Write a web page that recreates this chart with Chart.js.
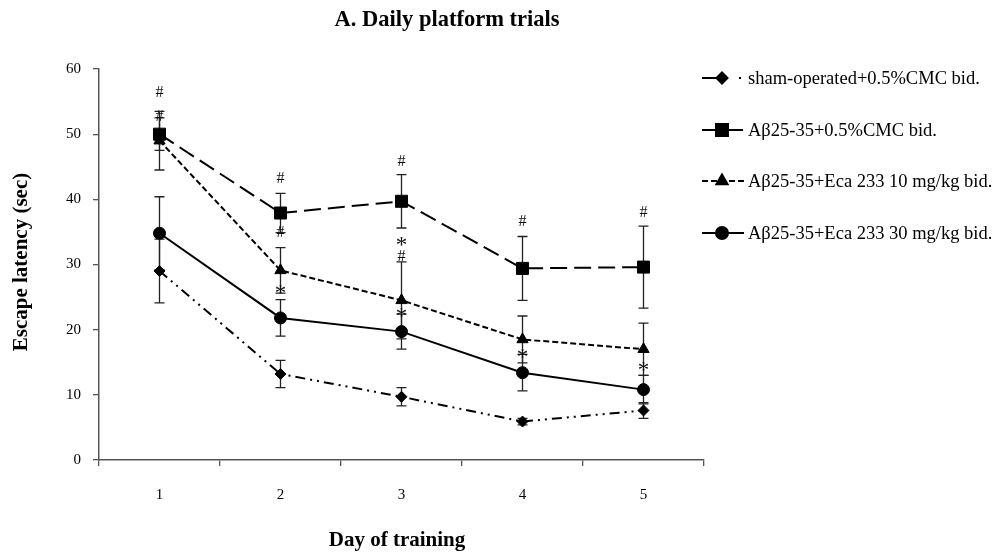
<!DOCTYPE html>
<html><head><meta charset="utf-8">
<script src="https://cdn.jsdelivr.net/npm/chart.js@4/dist/chart.umd.min.js"></script>
<style>html,body{margin:0;padding:0;background:#fff}#wrap{width:992px;height:554px;position:relative}</style>
</head><body><div id="wrap"><canvas id="c" width="992" height="554"></canvas></div>
<script>
// Escape latency (mean ± SEM) per training day
const days = ['1', '2', '3', '4', '5'];
const shamMean = [29.0, 13.2, 9.7, 5.9, 7.6];
const shamSem = [4.9, 2.1, 1.4, 0.5, 1.2];
const abMean = [50.0, 37.9, 39.7, 29.4, 29.6];
const abSem = [2.5, 3.0, 4.1, 4.9, 6.3];
const eca10Mean = [49.0, 29.1, 24.5, 18.5, 17.0];
const eca10Sem = [4.5, 3.5, 5.9, 3.6, 4.0];
const eca30Mean = [34.8, 21.8, 19.7, 13.4, 10.8];
const eca30Sem = [5.6, 2.8, 2.7, 2.8, 2.2];
const seriesNames = ['sham-operated+0.5%CMC bid.', 'Aβ25-35+0.5%CMC bid.', 'Aβ25-35+Eca 233 10 mg/kg bid.', 'Aβ25-35+Eca 233 30 mg/kg bid.'];
const yMin = 0, yMax = 60, yStep = 10;
// significance marks: day index, value level, symbol
const sigDay = [0, 0, 1, 1, 1, 2, 2, 2, 2, 3, 3, 4, 4];
const sigY = [56.6, 52.9, 43.4, 35.0, 26.2, 46.0, 33.5, 31.4, 22.7, 36.8, 16.3, 38.2, 14.3];
const sigSym = ['#', '#', '#', '#', '*', '#', '*', '#', '*', '#', '*', '#', '*'];

const SERIF = '"Liberation Serif", "Times New Roman", serif';
const means = [shamMean, abMean, eca10Mean, eca30Mean];
const sems = [shamSem, abSem, eca10Sem, eca30Sem];
const styles = [
  { point: 'rectRot', radius: 5.5, dash: [10, 5, 2, 5, 2, 5], keyDash: [16, 21, 2, 20] },
  { point: 'rect', radius: 8.5, dash: [17, 7], keyDash: [17, 7] },
  { point: 'triangle', radius: 6.5, dash: [6, 3], keyDash: [6, 3] },
  { point: 'circle', radius: 6, dash: [], keyDash: [] }
];

const datasets = means.map((m, i) => ({
  label: seriesNames[i],
  data: m,
  borderColor: '#000',
  backgroundColor: '#000',
  borderWidth: 2,
  borderDash: styles[i].dash,
  pointStyle: styles[i].point,
  pointRadius: styles[i].radius,
  pointBorderWidth: 1,
  pointBackgroundColor: '#000',
  pointBorderColor: '#000',
  tension: 0,
  fill: false
}));

// whiskers behind the markers
const errorBars = {
  id: 'errorBars',
  beforeDatasetsDraw(chart) {
    const ctx = chart.ctx, x = chart.scales.x, y = chart.scales.y;
    ctx.save();
    ctx.strokeStyle = '#222';
    ctx.lineWidth = 1.3;
    ctx.setLineDash([]);
    means.forEach((m, s) => {
      m.forEach((v, i) => {
        const px = x.getPixelForValue(i);
        const top = y.getPixelForValue(v + sems[s][i]);
        const bot = y.getPixelForValue(v - sems[s][i]);
        ctx.beginPath();
        ctx.moveTo(px, top); ctx.lineTo(px, bot);
        ctx.moveTo(px - 5, top); ctx.lineTo(px + 5, top);
        ctx.moveTo(px - 5, bot); ctx.lineTo(px + 5, bot);
        ctx.stroke();
      });
    });
    ctx.restore();
  }
};

// '#' / '*' marks, titles and the legend
const decorations = {
  id: 'decorations',
  afterDraw(chart) {
    const ctx = chart.ctx, x = chart.scales.x, y = chart.scales.y;
    ctx.save();
    ctx.fillStyle = '#111';
    ctx.textAlign = 'center';
    ctx.textBaseline = 'alphabetic';
    sigSym.forEach((s, k) => {
      ctx.font = (s === '*' ? '23px ' : '16px ') + SERIF;
      const px = x.getPixelForValue(sigDay[k]);
      const py = y.getPixelForValue(sigY[k]);
      const m = ctx.measureText(s);
      ctx.fillText(s, px, py + (m.actualBoundingBoxAscent - m.actualBoundingBoxDescent) / 2);
    });

    ctx.fillStyle = '#000';
    ctx.textBaseline = 'middle';
    ctx.font = 'bold 22.5px ' + SERIF;
    ctx.fillText('A. Daily platform trials', 447, 20);
    ctx.font = 'bold 21px ' + SERIF;
    ctx.fillText('Day of training', 397, 541);
    ctx.save();
    ctx.translate(22, 262);
    ctx.rotate(-Math.PI / 2);
    ctx.fillText('Escape latency (sec)', 0, 0);
    ctx.restore();

    // legend entries
    const rows = [78, 130, 181, 233];
    ctx.font = '18.5px ' + SERIF;
    ctx.textAlign = 'left';
    rows.forEach((ry, i) => {
      const st = styles[i];
      ctx.strokeStyle = '#000';
      ctx.lineWidth = 2;
      ctx.setLineDash(st.keyDash);
      ctx.beginPath();
      ctx.moveTo(702, ry); ctx.lineTo(744, ry);
      ctx.stroke();
      ctx.setLineDash([]);
      Chart.helpers.drawPoint(ctx, { pointStyle: st.point, radius: st.radius, borderWidth: 1 }, 722, ry);
      ctx.fillStyle = '#000';
      ctx.fill();
      ctx.fillText(seriesNames[i], 748, ry + 1);
    });
    ctx.restore();
  }
};

new Chart(document.getElementById('c'), {
  type: 'line',
  data: { labels: days, datasets },
  options: {
    responsive: false,
    animation: false,
    layout: { padding: { top: 69, right: 288, left: 0, bottom: 0 } },
    plugins: { legend: { display: false }, title: { display: false }, tooltip: { enabled: false } },
    scales: {
      x: {
        offset: true,
        grid: { offset: true, drawOnChartArea: false, drawTicks: true, tickLength: 6, color: '#555', lineWidth: 1.3 },
        border: { display: true, color: '#555', width: 1.5 },
        ticks: { color: '#000', font: { family: SERIF, size: 15 }, padding: 20, maxRotation: 0 },
        afterFit(s) { s.height = 94; }
      },
      y: {
        min: yMin, max: yMax,
        grid: { drawOnChartArea: false, drawTicks: true, tickLength: 6, color: '#555', lineWidth: 1.3 },
        border: { display: true, color: '#555', width: 1.5 },
        ticks: { stepSize: yStep, color: '#000', font: { family: SERIF, size: 15 }, padding: 12 },
        afterFit(s) { s.width = 99; }
      }
    }
  },
  plugins: [errorBars, decorations]
});
</script></body></html>
